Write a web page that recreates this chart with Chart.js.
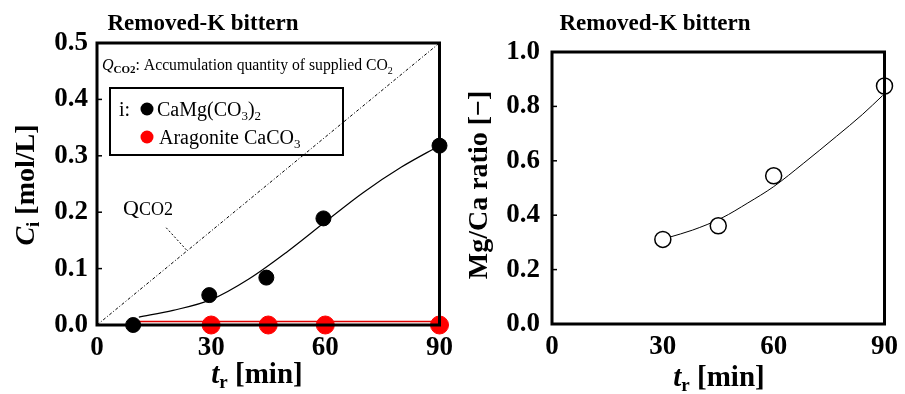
<!DOCTYPE html>
<html>
<head>
<meta charset="utf-8">
<script src="https://cdn.jsdelivr.net/npm/chart.js@4.4.1/dist/chart.umd.min.js"></script>
<style>
  html, body { margin: 0; padding: 0; background: #fff; }
  .wrap { position: relative; width: 905px; height: 394px; }
  .panel { position: absolute; top: 0; height: 394px; }
  #left { left: 0; width: 460px; }
  #right { left: 460px; width: 445px; }
</style>
</head>
<body>
<div class="wrap">
  <div class="panel" id="left"><canvas id="concChart" width="460" height="394"></canvas></div>
  <div class="panel" id="right"><canvas id="ratioChart" width="445" height="394"></canvas></div>
</div>
<script>
// concentration panel
const dolomiteTime = [9.5, 29.5, 44.5, 59.5, 90];
const dolomiteConc = [0.0, 0.053, 0.084, 0.189, 0.318];
const aragoniteTime = [30, 45, 60, 90];
const aragoniteConc = [0.0, 0.0, 0.0, 0.0];
const dolomiteFitTime = [11, 20, 30, 40, 50, 60, 70, 80, 90];
const dolomiteFitConc = [0.014, 0.026, 0.045, 0.082, 0.13, 0.183, 0.235, 0.28, 0.318];
const aragoniteFitTime = [11, 90];
const aragoniteFitConc = [0.006, 0.006];
const co2Time = [0, 90];
const co2Supplied = [0, 0.5];

// Mg/Ca ratio panel
const ratioTime = [30, 45, 60, 90];
const ratioValue = [0.311, 0.361, 0.545, 0.875];
const ratioFitTime = [31.5, 38, 46, 53, 60, 68, 77, 84, 89.5];
const ratioFitValue = [0.318, 0.345, 0.39, 0.445, 0.505, 0.59, 0.69, 0.77, 0.84];

const timeTicks = [0, 30, 60, 90];

const SERIF = '"Liberation Serif", "Times New Roman", serif';
const pts = (xs, ys) => xs.map((x, i) => ({ x, y: ys[i] }));

// draws a run of text pieces with their own font and vertical shift
function drawRich(ctx, parts, x, y, align) {
  ctx.save();
  ctx.textBaseline = "alphabetic";
  ctx.textAlign = "left";
  let total = 0;
  parts.forEach((p) => {
    ctx.font = p.f;
    p.w = ctx.measureText(p.t).width;
    total += p.w;
  });
  let cx = align === "center" ? x - total / 2 : x;
  parts.forEach((p) => {
    ctx.font = p.f;
    ctx.fillStyle = p.c || "#000";
    ctx.fillText(p.t, cx, y + (p.dy || 0));
    cx += p.w;
  });
  ctx.restore();
}

function drawRotated(ctx, parts, x, y) {
  ctx.save();
  ctx.translate(x, y);
  ctx.rotate(-Math.PI / 2);
  drawRich(ctx, parts, 0, 0, "center");
  ctx.restore();
}

// box around the plot area and small inward ticks on the y axis
const framePlugin = {
  id: "frame",
  afterDraw(chart) {
    const { ctx, chartArea: a, scales } = chart;
    ctx.save();
    ctx.strokeStyle = "#000";
    ctx.lineWidth = 1.5;
    scales.y.ticks.forEach((t) => {
      const py = scales.y.getPixelForValue(t.value);
      ctx.beginPath();
      ctx.moveTo(a.left, py);
      ctx.lineTo(a.left + 5, py);
      ctx.stroke();
    });
    ctx.lineWidth = 3;
    ctx.strokeRect(a.left, a.top, a.right - a.left, a.bottom - a.top);
    ctx.restore();
  },
};

const tickFont = { family: SERIF, size: 27, weight: "bold" };

function timeAxis(height) {
  return {
    type: "linear",
    min: 0,
    max: 90,
    afterBuildTicks: (s) => { s.ticks = timeTicks.map((v) => ({ value: v })); },
    afterFit: (s) => { s.height = height; },
    grid: { display: false, drawTicks: false },
    border: { display: false },
    ticks: { font: tickFont, color: "#000", padding: 7 },
  };
}

function valueAxis(max, step, width, pad) {
  return {
    type: "linear",
    min: 0,
    max: max,
    afterFit: (s) => { s.width = width; },
    grid: { display: false, drawTicks: false },
    border: { display: false },
    ticks: {
      stepSize: step,
      font: tickFont,
      color: "#000",
      padding: pad,
      callback: (v) => v.toFixed(1),
    },
  };
}

const commonOptions = {
  responsive: false,
  animation: false,
  events: [],
  plugins: { legend: { display: false }, tooltip: { enabled: false } },
};

const titleParts = [{ t: "Removed-K bittern", f: `bold 23px ${SERIF}` }];
const timeTitle = [
  { t: "t", f: `italic bold 29px ${SERIF}` },
  { t: "r", f: `bold 19px ${SERIF}`, dy: 5 },
  { t: " [min]", f: `bold 29px ${SERIF}` },
];

new Chart(document.getElementById("concChart"), {
  type: "scatter",
  data: {
    datasets: [
      {
        data: pts(co2Time, co2Supplied),
        showLine: true,
        borderColor: "#000",
        borderWidth: 1,
        borderDash: [3, 2, 1, 2],
        pointRadius: 0,
        order: 5,
      },
      {
        data: pts(dolomiteFitTime, dolomiteFitConc),
        showLine: true,
        cubicInterpolationMode: "monotone",
        borderColor: "#000",
        borderWidth: 1.2,
        pointRadius: 0,
        order: 4,
      },
      {
        data: pts(aragoniteFitTime, aragoniteFitConc),
        showLine: true,
        borderColor: "#e00000",
        borderWidth: 1.5,
        pointRadius: 0,
        order: 3,
      },
      {
        data: pts(dolomiteTime, dolomiteConc),
        pointRadius: 7.5,
        backgroundColor: "#000",
        borderColor: "#000",
        clip: false,
        order: 2,
      },
      {
        data: pts(aragoniteTime, aragoniteConc),
        pointRadius: 9,
        backgroundColor: "#ff0000",
        borderColor: "#ff0000",
        clip: false,
        order: 1,
      },
    ],
  },
  options: {
    ...commonOptions,
    layout: { padding: { top: 43, right: 17, left: 0, bottom: 0 } },
    scales: { x: timeAxis(69), y: valueAxis(0.5, 0.1, 97, 9) },
  },
  plugins: [
    framePlugin,
    {
      id: "concText",
      afterDraw(chart) {
        const { ctx, scales } = chart;
        drawRich(ctx, titleParts, 203, 30, "center");
        drawRich(ctx, timeTitle, 257, 383, "center");
        drawRotated(ctx, [
          { t: "C", f: `italic bold 28px ${SERIF}` },
          { t: "i", f: `bold 19px ${SERIF}`, dy: 5 },
          { t: " [mol/L]", f: `bold 28px ${SERIF}` },
        ], 34, 185);

        drawRich(ctx, [
          { t: "Q", f: `italic 16px ${SERIF}` },
          { t: "CO2", f: `bold 11px ${SERIF}`, dy: 3 },
          { t: ": Accumulation quantity of supplied CO", f: `15.7px ${SERIF}` },
          { t: "2", f: `10px ${SERIF}`, dy: 4 },
        ], 102, 70, "left");

        // legend
        ctx.save();
        ctx.strokeStyle = "#000";
        ctx.lineWidth = 2;
        ctx.strokeRect(110, 88, 233, 67);
        ctx.fillStyle = "#000";
        ctx.beginPath();
        ctx.arc(147, 109, 6.5, 0, Math.PI * 2);
        ctx.fill();
        ctx.fillStyle = "#ff0000";
        ctx.beginPath();
        ctx.arc(147, 137, 6.5, 0, Math.PI * 2);
        ctx.fill();
        ctx.restore();
        drawRich(ctx, [{ t: "i:", f: `20px ${SERIF}` }], 119, 116, "left");
        drawRich(ctx, [
          { t: "CaMg(CO", f: `20px ${SERIF}` },
          { t: "3", f: `13px ${SERIF}`, dy: 4 },
          { t: ")", f: `20px ${SERIF}` },
          { t: "2", f: `13px ${SERIF}`, dy: 4 },
        ], 157, 116, "left");
        drawRich(ctx, [
          { t: "Aragonite CaCO", f: `20px ${SERIF}` },
          { t: "3", f: `13px ${SERIF}`, dy: 4 },
        ], 159, 144, "left");

        // label for the supplied CO2 line with its leader
        drawRich(ctx, [
          { t: "Q", f: `22px ${SERIF}` },
          { t: "CO2", f: `18px ${SERIF}` },
        ], 123, 215, "left");
        const ex = scales.x.getPixelForValue(23.7);
        const ey = scales.y.getPixelForValue(0.1317);
        ctx.save();
        ctx.strokeStyle = "#000";
        ctx.lineWidth = 1;
        ctx.setLineDash([2, 2]);
        ctx.beginPath();
        ctx.moveTo(ex - 21, ey - 23);
        ctx.lineTo(ex, ey);
        ctx.stroke();
        ctx.restore();
      },
    },
  ],
});

new Chart(document.getElementById("ratioChart"), {
  type: "scatter",
  data: {
    datasets: [
      {
        data: pts(ratioFitTime, ratioFitValue),
        showLine: true,
        cubicInterpolationMode: "monotone",
        borderColor: "#000",
        borderWidth: 1,
        pointRadius: 0,
        order: 2,
      },
      {
        data: pts(ratioTime, ratioValue),
        pointRadius: 8,
        backgroundColor: "#fff",
        borderColor: "#000",
        borderWidth: 1.5,
        clip: false,
        order: 1,
      },
    ],
  },
  options: {
    ...commonOptions,
    layout: { padding: { top: 52, right: 19, left: 0, bottom: 0 } },
    scales: { x: timeAxis(70), y: valueAxis(1.0, 0.2, 92, 12) },
  },
  plugins: [
    framePlugin,
    {
      id: "ratioText",
      afterDraw(chart) {
        const { ctx } = chart;
        drawRich(ctx, titleParts, 195, 30, "center");
        drawRich(ctx, timeTitle, 259, 386, "center");
        drawRotated(ctx, [{ t: "Mg/Ca ratio [\u2212]", f: `bold 28px ${SERIF}` }], 27, 185);
      },
    },
  ],
});
</script>
</body>
</html>
